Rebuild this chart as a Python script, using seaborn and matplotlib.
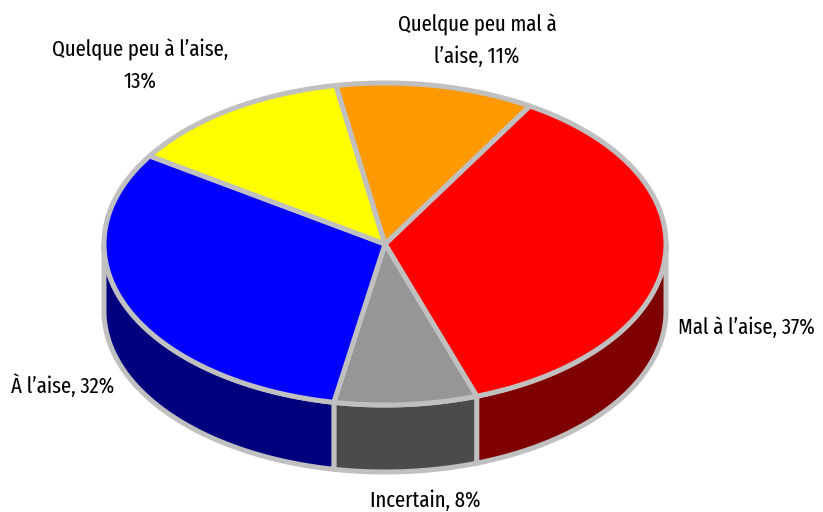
import numpy as np
import seaborn as sns
import matplotlib.pyplot as plt
from matplotlib.patches import Polygon

categories = ['Mal à l’aise', 'Incertain', 'À l’aise', 'Quelque peu à l’aise', 'Quelque peu mal à l’aise']
# parts (la perspective les deplace un peu par rapport aux %)
parts_lues = [36.1, 8.2, 31.3, 13.0, 11.4]
couleurs = ['#ff0000', '#969696', '#0000ff', '#ffff00', '#ff9900']
cote = ['#7f0000', '#4b4b4b', '#00007f', '#7f7f00', '#7f4c00']
etiquettes = ['Mal à l’aise, 37%', 'Incertain, 8%', 'À l’aise, 32%', 'Quelque peu à l’aise,\n13%', 'Quelque peu mal à\nl’aise, 11%']
pos_etiquettes = [(746, 328), (425, 501), (63, 386), (140, 66), (477, 41)]

sns.set_theme(style='white')
plt.rcParams['font.family'] = ['Fira Sans Extra Condensed', 'DejaVu Sans']

# geometrie du camembert en pixels
cx, cy, rx, ry, h = 385, 244, 281, 161, 67
bord = '#c0c0c0'
lw = 3.6
debut = 59


def arc(a1, a2):
    t = np.radians(np.linspace(a1, a2, 200))
    return cx + rx * np.cos(t), cy - ry * np.sin(t)


fig = plt.figure(figsize=(8.23, 5.12), dpi=100)
ax = fig.add_axes([0, 0, 1, 1])
ax.set_xlim(0, 823)
ax.set_ylim(512, 0)
ax.axis('off')

parts = np.array(parts_lues) / sum(parts_lues) * 360
fins = debut - np.cumsum(parts)
debuts = fins + parts

# les cotes d'abord, seulement la moitie avant
for a1, a2, c in zip(debuts, fins, cote):
    b1 = min(a1, 0)
    b2 = max(a2, -180)
    if b1 <= b2:
        continue
    x, y = arc(b1, b2)
    pts = np.r_[np.c_[x, y], np.c_[x[::-1], y[::-1] + h]]
    ax.add_patch(Polygon(pts, closed=True, fc=c, ec=bord, lw=lw, joinstyle='round', zorder=2))

# le dessus
for a1, a2, c in zip(debuts, fins, couleurs):
    x, y = arc(a1, a2)
    pts = np.r_[[[cx, cy]], np.c_[x, y]]
    ax.add_patch(Polygon(pts, closed=True, fc=c, ec=bord, lw=lw, joinstyle='round', zorder=3))

for txt, (px, py) in zip(etiquettes, pos_etiquettes):
    ax.text(px, py, txt, ha='center', va='center', fontsize=16.2, fontweight=400, color='black', linespacing=1.6)

fig.savefig('out.png', dpi=100)
